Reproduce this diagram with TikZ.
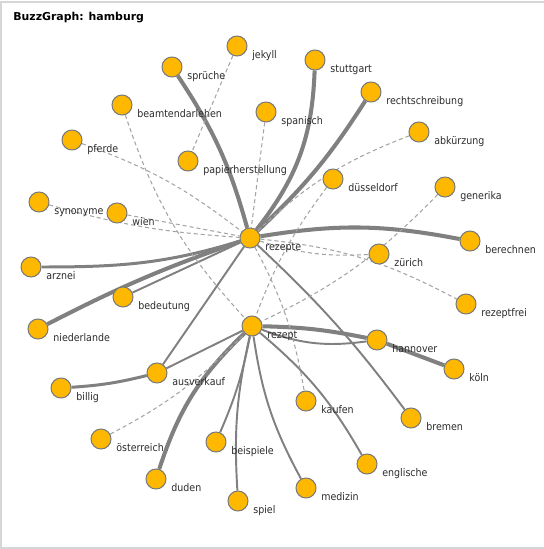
\documentclass[tikz,border=0pt]{standalone}
\usepackage{fontspec}
\setmainfont{DejaVu Sans}
\newfontfamily\labelfont{DejaVu Sans}[FakeStretch=0.9]
\usetikzlibrary{backgrounds}
\definecolor{buzzorange}{HTML}{FFB800}
\definecolor{buzzrim}{HTML}{7A7A7A}
\definecolor{buzzedge}{HTML}{808080}
\definecolor{buzzdash}{HTML}{A4A4A4}
\definecolor{buzzframe}{HTML}{D6D6D6}
\definecolor{buzztext}{HTML}{2B2B2B}
\tikzset{
  term/.style={circle, fill=buzzorange, draw=buzzrim, line width=0.6pt,
    minimum size=0.4cm, inner sep=0pt},
  termlabel/.style={anchor=base west, inner sep=0pt, text=buzztext,
    font=\labelfont\fontsize{6}{7}\selectfont},
  strong/.style={draw=buzzedge, line width=2.3pt},
  medium/.style={draw=buzzedge, line width=1.7pt},
  weak/.style={draw=buzzedge, line width=1.1pt},
  loose/.style={draw=buzzdash, line width=0.6pt, dash pattern=on 2.3pt off 1.7pt},
}
\begin{document}
\begin{tikzpicture}[x=0.2mm, y=0.2mm]
	\useasboundingbox (0,0) rectangle (544,-549);
	\draw[buzzframe, line width=0.6pt] (1,-2) rectangle (545,-548);
	\node[anchor=base west, inner sep=0pt, font=\bfseries\fontsize{6.2}{7}\selectfont] (title) at (13,-20) {BuzzGraph: hamburg};
	% terms with their labels
	\foreach \n/\x/\y/\t in {jekyll/237/46/jekyll, spruche/172/67/sprüche,
		stuttgart/315/60/stuttgart, rechtschreibung/371/92/rechtschreibung,
		beamtendarlehen/122/105/beamtendarlehen, spanisch/266/112/spanisch,
		abkurzung/419/132/abkürzung, pferde/72/140/pferde,
		papierherstellung/188/161/papierherstellung, dusseldorf/333/179/düsseldorf,
		generika/445/187/generika, synonyme/39/202/synonyme, wien/117/213/wien,
		rezepte/250/238/rezepte, berechnen/470/241/berechnen, zurich/379/254/zürich,
		arznei/31/267/arznei, bedeutung/123/297/bedeutung,
		niederlande/38/329/niederlande, rezeptfrei/466/304/rezeptfrei,
		rezept/252/326/rezept, hannover/377/340/hannover, koln/454/369/köln,
		ausverkauf/157/373/ausverkauf, billig/61/388/billig, kaufen/306/401/kaufen,
		bremen/411/418/bremen, osterreich/101/439/österreich,
		beispiele/216/442/beispiele, englische/367/464/englische,
		duden/156/479/duden, medizin/306/488/medizin, spiel/238/501/spiel} {
		\node[term] (\n) at (\x,-\y) {};
		\node[termlabel] (\n-label) at (\x+15,-\y-12) {\t};
	}
	\begin{scope}[on background layer]
		% strong links
		\draw[strong] (rezepte) to[bend right=9] (spruche);
		\draw[strong] (rezepte) to[bend right=18] (stuttgart);
		\draw[strong] (rezepte) to[bend right=7] (rechtschreibung);
		\draw[strong] (rezepte) to[bend left=10] (berechnen);
		\draw[strong] (rezepte) to[bend right=4] (niederlande);
		\draw[strong] (rezept) to[bend right=14] (duden);
		\draw[strong] (rezept) to[bend left=5] (hannover);
		\draw[strong] (hannover) -- (koln);
		\draw[medium] (arznei) to[out=0, in=197] (rezepte);
		\draw[medium] (billig) to[bend right=5] (ausverkauf);
		% weak links
		\draw[weak] (rezepte) -- (bedeutung);
		\draw[weak] (rezepte) -- (ausverkauf);
		\draw[weak] (rezepte) to[bend left=5] (bremen);
		\draw[weak] (rezept) -- (ausverkauf);
		\draw[weak] (rezept) to[bend right=14] (hannover);
		\draw[weak] (rezept) to[bend left=10] (englische);
		\draw[weak] (rezept) to[bend right=10] (medizin);
		\draw[weak] (rezept) to[bend left=6] (beispiele);
		\draw[weak] (rezept) to[bend right=8] (spiel);
		% loose links
		\draw[loose] (jekyll) -- (papierherstellung);
		\draw[loose] (beamtendarlehen) to[bend right=12] (rezept);
		\draw[loose] (pferde) to[bend left=9] (rezepte);
		\draw[loose] (synonyme) to[bend right=6] (rezepte);
		\draw[loose] (wien) -- (rezepte);
		\draw[loose] (rezepte) to[bend right=10] (zurich);
		\draw[loose] (rezepte) to[bend left=11] (rezeptfrei);
		\draw[loose] (rezepte) to[bend left=9] (kaufen);
		\draw[loose] (spanisch) -- (rezepte);
		\draw[loose] (abkurzung) to[bend right=11] (rezepte);
		\draw[loose] (dusseldorf) to[bend right=8] (rezept);
		\draw[loose] (generika) to[bend left=10] (rezept);
		\draw[loose] (osterreich) to[bend right=9] (rezept);
	\end{scope}
\end{tikzpicture}
\end{document}
